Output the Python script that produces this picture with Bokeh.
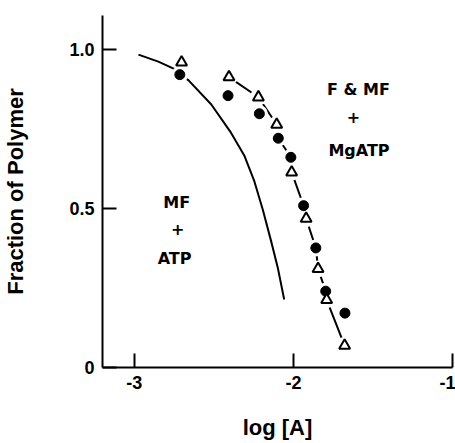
from bokeh.plotting import figure
from bokeh.models import FixedTicker, Range1d, Label
from bokeh.embed import file_html
from bokeh.resources import INLINE

# ---------------- data ----------------
x_ticks = [-3, -2, -1]
x_tick_labels = ["-3", "-2", "-1"]
y_ticks = [0, 0.5, 1.0]
y_tick_labels = ["0", "0.5", "1.0"]

# open triangles (F & MF + MgATP)
tri_x = [-2.703, -2.405, -2.220, -2.105, -2.011, -1.920, -1.845, -1.791, -1.678]
tri_y = [0.960, 0.913, 0.850, 0.764, 0.614, 0.468, 0.310, 0.213, 0.069]
# filled circles
dot_x = [-2.714, -2.411, -2.214, -2.095, -2.016, -1.936, -1.859, -1.797, -1.676]
dot_y = [0.921, 0.855, 0.798, 0.721, 0.661, 0.509, 0.376, 0.240, 0.171]

# solid curve (MF + ATP)
mf_x = [-2.974, -2.849, -2.753, -2.659, -2.516, -2.397, -2.309, -2.247, -2.191, -2.141, -2.097, -2.058]
mf_y = [0.984, 0.962, 0.940, 0.903, 0.827, 0.742, 0.667, 0.588, 0.494, 0.399, 0.311, 0.214]

# broken curve (F & MF + MgATP)
mg_x = [-2.405, -2.220, -2.105, -2.095, -2.016, -2.011, -1.936, -1.920, -1.859, -1.845, -1.797, -1.791, -1.678]
mg_y = [0.913, 0.850, 0.764, 0.721, 0.661, 0.614, 0.509, 0.468, 0.376, 0.310, 0.240, 0.213, 0.069]

FONT_T = "Liberation Sans"
FONT_A = "DejaVu Sans"

p = figure(width=455, height=443,
           x_range=Range1d(-3.2, -1.0), y_range=Range1d(0, 1.107),
           output_backend="svg", toolbar_location=None,
           min_border_left=100, min_border_right=3,
           min_border_top=15, min_border_bottom=76)
p.grid.visible = False
p.outline_line_color = None
p.background_fill_color = "white"
p.border_fill_color = "white"

# curves
p.line(mf_x, mf_y, line_color="black", line_width=2, line_join="round")
p.line(mg_x, mg_y, line_color="black", line_width=2, line_join="round")

# white halos that break the lines around the markers
p.scatter(tri_x + dot_x, tri_y + dot_y, size=17, marker="circle",
          fill_color="white", line_color=None)

# markers
p.scatter(dot_x, dot_y, marker="circle", size=10, fill_color="black", line_color="black")
p.scatter(tri_x, tri_y, marker="triangle", size=11, fill_color="white",
          line_color="black", line_width=2)

# axes
for ax, ticks, labels in ((p.xaxis, x_ticks, x_tick_labels), (p.yaxis, y_ticks, y_tick_labels)):
    ax.ticker = FixedTicker(ticks=ticks)
    ax.major_label_overrides = {t: l for t, l in zip(ticks, labels)}
    ax.minor_tick_line_color = None
    ax.major_tick_in = 14
    ax.major_tick_out = 0
    ax.axis_line_width = 2
    ax.major_tick_line_width = 2
    ax.axis_line_color = "black"
    ax.major_tick_line_color = "black"
    ax.major_label_text_font = FONT_T
    ax.major_label_text_font_size = "18px"
    ax.major_label_text_font_style = "bold"
    ax.major_label_text_color = "black"
    ax.axis_label_text_font = FONT_T
    ax.axis_label_text_font_size = "22px"
    ax.axis_label_text_font_style = "bold"
    ax.axis_label_text_color = "black"

p.xaxis.axis_label = "log [A]"
p.xaxis.major_label_standoff = 8
p.xaxis.axis_label_standoff = 23
p.yaxis.axis_label = "Fraction of Polymer"
p.yaxis.major_label_standoff = 8
p.yaxis.axis_label_standoff = 38

# annotations
notes = [
    ("F & MF", -1.591, 0.874),
    ("+", -1.622, 0.789),
    ("MgATP", -1.588, 0.682),
    ("MF", -2.734, 0.519),
    ("+", -2.728, 0.437),
    ("ATP", -2.747, 0.343),
]
for t, x, y in notes:
    p.add_layout(Label(x=x, y=y, text=t, text_font=FONT_A, text_font_size="16px",
                       text_font_style="bold", text_color="black",
                       text_align="center", text_baseline="alphabetic"))

open("out.html", "w").write(file_html(p, INLINE))
